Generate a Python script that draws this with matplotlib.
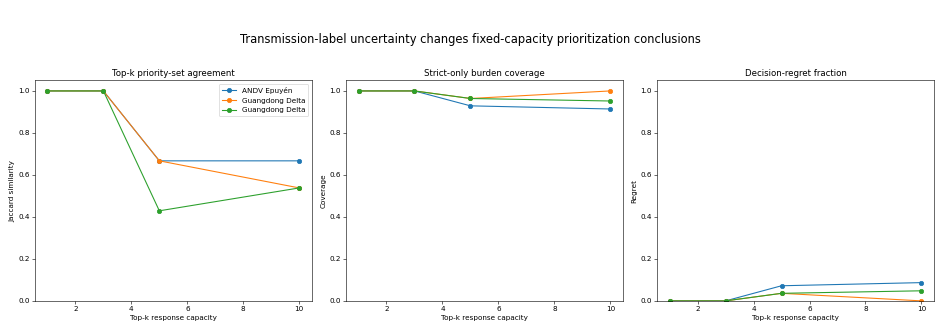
import matplotlib
matplotlib.use('Agg')
import matplotlib.pyplot as plt

# Top-k capacities
k_values = [1, 3, 5, 10]
series_labels = ['ANDV Epuyén', 'Guangdong Delta', 'Guangdong Delta']

# Jaccard similarity per dataset
jaccard_andv = [1.0, 1.0, 0.667, 0.667]
jaccard_gd_a = [1.0, 1.0, 0.667, 0.538]
jaccard_gd_b = [1.0, 1.0, 0.429, 0.538]

# Strict-only burden coverage
coverage_andv = [1.0, 1.0, 0.929, 0.914]
coverage_gd_a = [1.0, 1.0, 0.964, 1.0]
coverage_gd_b = [1.0, 1.0, 0.964, 0.952]

# Decision-regret fraction
regret_andv = [0.0, 0.0, 0.072, 0.087]
regret_gd_a = [0.0, 0.0, 0.036, 0.0]
regret_gd_b = [0.0, 0.0, 0.036, 0.048]


def plot_panel(ax, series, title, ylabel, legend=False):
    for values, label in zip(series, series_labels):
        ax.plot(k_values, values, marker='o', label=label)
    ax.set_title(title)
    ax.set_xlabel('Top-k response capacity')
    ax.set_ylabel(ylabel)
    ax.set_ylim(0, 1.05)
    if legend:
        ax.legend(loc='upper right')


fig, axs = plt.subplots(1, 3, figsize=(941 / 52, 331 / 52), dpi=52)
fig.subplots_adjust(left=0.037, right=0.9926, top=0.757, bottom=0.091, wspace=0.123)

plot_panel(axs[0], [jaccard_andv, jaccard_gd_a, jaccard_gd_b],
           'Top-k priority-set agreement', 'Jaccard similarity', legend=True)
plot_panel(axs[1], [coverage_andv, coverage_gd_a, coverage_gd_b],
           'Strict-only burden coverage', 'Coverage')
plot_panel(axs[2], [regret_andv, regret_gd_a, regret_gd_b],
           'Decision-regret fraction', 'Regret')

fig.suptitle('Transmission-label uncertainty changes fixed-capacity prioritization conclusions',
             fontsize=16, y=0.9)

fig.savefig('out.png', dpi=52)
